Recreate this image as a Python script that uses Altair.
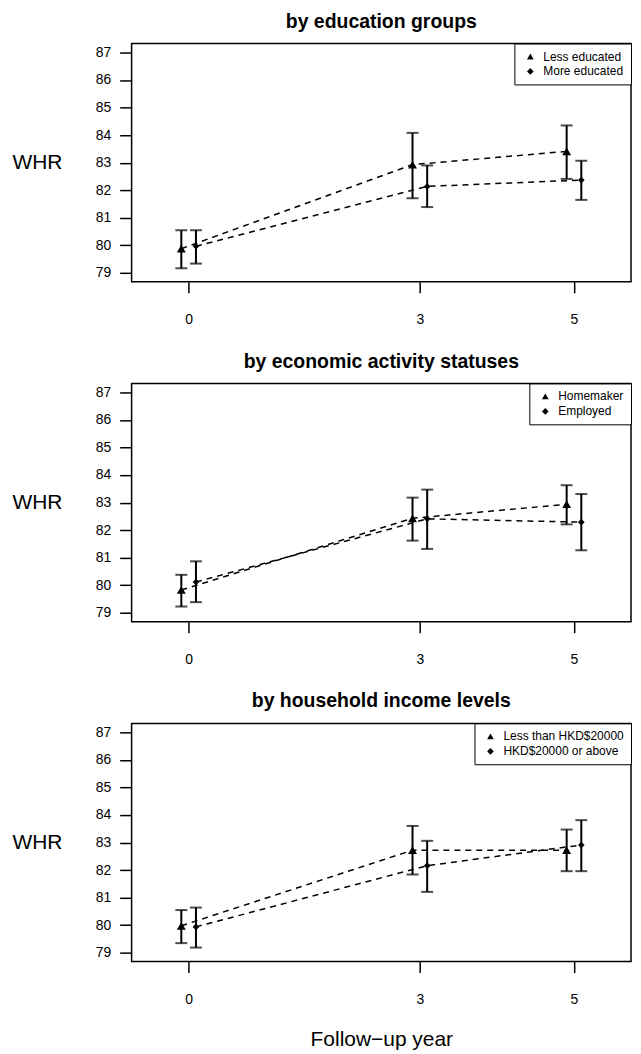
import altair as alt
import pandas as pd

# ---------------- data ----------------
years = [0, 3, 5]

panel_titles = [
    "by education groups",
    "by economic activity statuses",
    "by household income levels",
]
group_labels = [
    ["Less educated", "More educated"],
    ["Homemaker", "Employed"],
    ["Less than HKD$20000", "HKD$20000 or above"],
]

# panel 1: education
edu_less_mean = [79.88, 82.93, 83.41]
edu_less_lo = [79.17, 81.71, 82.41]
edu_less_hi = [80.55, 84.08, 84.35]
edu_more_mean = [79.97, 82.14, 82.37]
edu_more_lo = [79.34, 81.39, 81.65]
edu_more_hi = [80.55, 82.90, 83.07]

# panel 2: economic activity
eco_home_mean = [79.83, 82.43, 82.94]
eco_home_lo = [79.23, 81.62, 82.21]
eco_home_hi = [80.38, 83.18, 83.63]
eco_emp_mean = [80.12, 82.41, 82.29]
eco_emp_lo = [79.39, 81.32, 81.27]
eco_emp_hi = [80.87, 83.47, 83.31]

# panel 3: household income
inc_low_mean = [79.98, 82.72, 82.72]
inc_low_lo = [79.35, 81.84, 81.96]
inc_low_hi = [80.55, 83.60, 83.47]
inc_high_mean = [79.94, 82.16, 82.91]
inc_high_lo = [79.19, 81.21, 81.96]
inc_high_hi = [80.64, 83.06, 83.81]

y_ticks = [79, 80, 81, 82, 83, 84, 85, 86, 87]
x_ticks = [0, 3, 5]

series = [
    [(edu_less_mean, edu_less_lo, edu_less_hi), (edu_more_mean, edu_more_lo, edu_more_hi)],
    [(eco_home_mean, eco_home_lo, eco_home_hi), (eco_emp_mean, eco_emp_lo, eco_emp_hi)],
    [(inc_low_mean, inc_low_lo, inc_low_hi), (inc_high_mean, inc_high_lo, inc_high_hi)],
]

# ---------------- style ----------------
DODGE = 0.095
FONT = "Liberation Sans"
W, H = 501, 239


def make_df(p):
    rows = []
    for gi, (m, lo, hi) in enumerate(series[p]):
        for yi, yr in enumerate(years):
            rows.append({"group": group_labels[p][gi], "gidx": gi, "year": yr,
                         "mean": m[yi], "lo": lo[yi], "hi": hi[yi]})
    return pd.DataFrame(rows)


def panel(p, last):
    labels = group_labels[p]
    df = make_df(p)
    base = alt.Chart(df).transform_calculate(
        xpos=f"datum.year + (datum.gidx == 0 ? -{DODGE} : {DODGE})"
    )
    xaxis = alt.Axis(
        values=x_ticks, grid=False, domain=False, tickSize=11, tickWidth=1.5,
        tickColor="black", labelFontSize=14, labelPadding=20, labelColor="black",
        labelFont=FONT,
        title="Follow\u2212up year" if last else None,
        titleFontSize=21, titleFontWeight="normal", titleFont=FONT, titleColor="black",
        titleY=78, titleBaseline="middle",
    )
    yaxis = alt.Axis(
        values=y_ticks, grid=False, domain=False, tickSize=12, tickWidth=1.5,
        tickColor="black", labelFontSize=14, labelPadding=9, labelColor="black",
        labelFont=FONT, title="WHR", titleAngle=0, titleFontSize=21,
        titleFontWeight="normal", titleFont=FONT, titleColor="black",
        titleX=-95, titleY=H / 2, titleAlign="center", titleBaseline="middle",
    )
    xs = alt.Scale(domain=[-0.74, 5.74], nice=False, zero=False)
    ys = alt.Scale(domain=[78.68, 87.32], nice=False, zero=False)
    X = alt.X("xpos:Q", scale=xs, axis=xaxis)

    lines = base.mark_line(color="black", strokeWidth=1.5, strokeDash=[6, 5]).encode(
        x=X, y=alt.Y("mean:Q", scale=ys, axis=yaxis), detail="group:N",
        order="year:Q",
    )
    rules = base.mark_rule(color="black", strokeWidth=2).encode(
        x=X, y=alt.Y("lo:Q", scale=ys, axis=yaxis), y2="hi:Q",
    )
    caps = base.transform_fold(["lo", "hi"], as_=["end", "val"]).mark_tick(
        color="black", orient="horizontal", size=12, thickness=2
    ).encode(x=X, y=alt.Y("val:Q", scale=ys, axis=yaxis))
    points = base.mark_point(filled=True, color="black", opacity=1).encode(
        x=X, y=alt.Y("mean:Q", scale=ys, axis=yaxis),
        shape=alt.Shape(
            "group:N",
            scale=alt.Scale(domain=labels, range=["triangle-up", "diamond"]),
            legend=alt.Legend(
                title=None, orient="top-right", offset=0, padding=7,
                strokeColor="black", fillColor="white", labelFontSize=12,
                labelFont=FONT, labelColor="black", symbolSize=45,
                symbolFillColor="black", symbolStrokeColor="black",
                symbolStrokeWidth=0, rowPadding=3,
                symbolOffset=3, labelOffset=7,
            ),
        ),
        size=alt.condition("datum.gidx == 0", alt.value(80), alt.value(45)),
    )
    return alt.layer(lines, rules, caps, points).properties(
        width=W, height=H,
        title=alt.TitleParams(panel_titles[p], fontSize=19.5, fontWeight="bold", font=FONT,
                              color="black", anchor="middle", baseline="alphabetic",
                              offset=-4),
    )


chart = alt.vconcat(
    panel(0, False), panel(1, False), panel(2, True), spacing=102, bounds="flush"
).resolve_scale(shape="independent").resolve_legend(
    shape="independent"
).properties(
    padding={"left": 3, "top": 1, "right": 0, "bottom": 0},
    background="white",
).configure_view(stroke="black", strokeWidth=1.5)

chart.save("out.html", embed_options={"renderer": "svg", "actions": False})
